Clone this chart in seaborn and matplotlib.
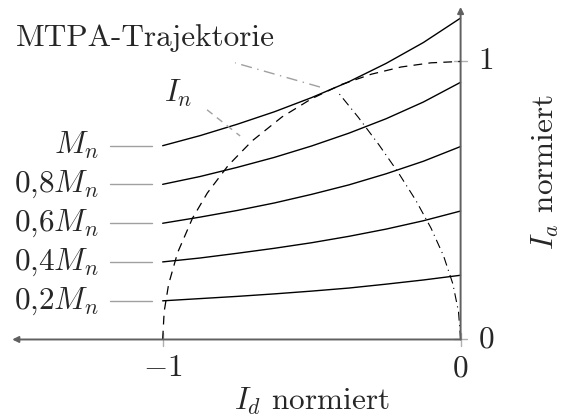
import numpy as np
import pandas as pd
import matplotlib
matplotlib.use('Agg')
import matplotlib.pyplot as plt
import seaborn as sns

# Werte (normiert)
i_d = [-1.0, -0.875, -0.75, -0.625, -0.5, -0.375, -0.25, -0.125, 0.0]
m_labels = [r'$M_n$', r'$0{,}8M_n$', r'$0{,}6M_n$', r'$0{,}4M_n$', r'$0{,}2M_n$']
m_curves = [
    [0.697, 0.733, 0.774, 0.819, 0.870, 0.927, 0.993, 1.068, 1.156],
    [0.558, 0.586, 0.619, 0.655, 0.696, 0.742, 0.794, 0.854, 0.925],
    [0.418, 0.440, 0.464, 0.491, 0.522, 0.556, 0.596, 0.641, 0.694],
    [0.279, 0.293, 0.310, 0.328, 0.348, 0.371, 0.397, 0.427, 0.462],
    [0.139, 0.147, 0.155, 0.164, 0.174, 0.185, 0.199, 0.214, 0.231],
]

# Stromgrenze I_n
circ_d = [-1.0, -0.995, -0.98, -0.95, -0.9, -0.85, -0.78, -0.7, -0.6, -0.5, -0.4, -0.3, -0.2, -0.1, 0.0]
circ_q = [0.0, 0.100, 0.199, 0.312, 0.436, 0.527, 0.626, 0.714, 0.800, 0.866, 0.917, 0.954, 0.980, 0.995, 1.0]

# MTPA-Trajektorie
mtpa_d = [0.0, -0.007, -0.026, -0.057, -0.099, -0.150, -0.209, -0.274, -0.344, -0.410]
mtpa_q = [0.0, 0.1, 0.2, 0.3, 0.4, 0.5, 0.6, 0.7, 0.8, 0.887]

sns.set_style('white')
plt.rcParams['font.family'] = ['cmr10', 'DejaVu Serif']
plt.rcParams['mathtext.fontset'] = 'cm'
plt.rcParams['axes.unicode_minus'] = False

fig = plt.figure(figsize=(5.61, 4.19), dpi=100)
ax = fig.add_axes([0, 0, 1, 1])
ax.set_xlim(-1.546, 0.337)
ax.set_ylim(-0.286, 1.221)
ax.axis('off')

axis_col = '#606060'
lead_col = '#a0a0a0'
fs = 22.5

# Achsen mit Pfeilen
ax.annotate('', xy=(-1.505, 0), xytext=(0, 0),
            arrowprops=dict(arrowstyle='-|>', color=axis_col, lw=1.4, mutation_scale=9,
                            shrinkA=0, shrinkB=0))
ax.annotate('', xy=(0, 1.196), xytext=(0, 0),
            arrowprops=dict(arrowstyle='-|>', color=axis_col, lw=1.4, mutation_scale=9,
                            shrinkA=0, shrinkB=0))
# Ticks
for xt in [-1.0, 0.0]:
    ax.plot([xt, xt], [-0.023, 0.023], color='#b0b0b0', lw=1)
for yt in [0.0, 1.0]:
    ax.plot([-0.022, 0.022], [yt, yt], color='#b0b0b0', lw=1)

# Momentenkurven
for lab, vals in zip(m_labels, m_curves):
    df = pd.DataFrame({'id': i_d, 'iq': vals})
    sns.lineplot(data=df, x='id', y='iq', ax=ax, color='black', lw=1.0,
                 sort=False, estimator=None)
    ax.plot([-1.177, -1.035], [vals[0], vals[0]], color=lead_col, lw=1.0)
    ax.text(-1.215, vals[0], lab, ha='right', va='center', fontsize=fs)

# Kreis I_n
sns.lineplot(x=circ_d, y=circ_q, ax=ax, color='black', lw=0.9, sort=False,
             estimator=None, linestyle=(0, (7, 5)))
ax.plot([-0.851, -0.740], [0.826, 0.732], color=lead_col, lw=1.0, linestyle=(0, (5, 4)))
ax.text(-0.949, 0.887, r'$I_n$', ha='center', va='center', fontsize=fs)

# MTPA
sns.lineplot(x=mtpa_d, y=mtpa_q, ax=ax, color='black', lw=0.8, sort=False,
             estimator=None, linestyle=(0, (8, 4, 1, 4)))
ax.plot([-0.472, -0.757], [0.908, 0.995], color=lead_col, lw=1.0, linestyle=(0, (8, 4, 1, 4)))
ax.text(-1.059, 1.085, 'MTPA-Trajektorie', ha='center', va='center', fontsize=fs)

# Beschriftungen
ax.text(-1.0, -0.103, r'$-1$', ha='center', va='center', fontsize=fs)
ax.text(0.0, -0.103, r'$0$', ha='center', va='center', fontsize=fs)
ax.text(0.085, 0.0, r'$0$', ha='center', va='center', fontsize=fs)
ax.text(0.085, 1.0, r'$1$', ha='center', va='center', fontsize=fs)
ax.text(-0.498, -0.222, r'$I_d$ normiert', ha='center', va='center', fontsize=fs)
ax.text(0.283, 0.602, r'$I_a$ normiert', ha='center', va='center', fontsize=fs, rotation=90)

fig.savefig('out.png', dpi=100)
